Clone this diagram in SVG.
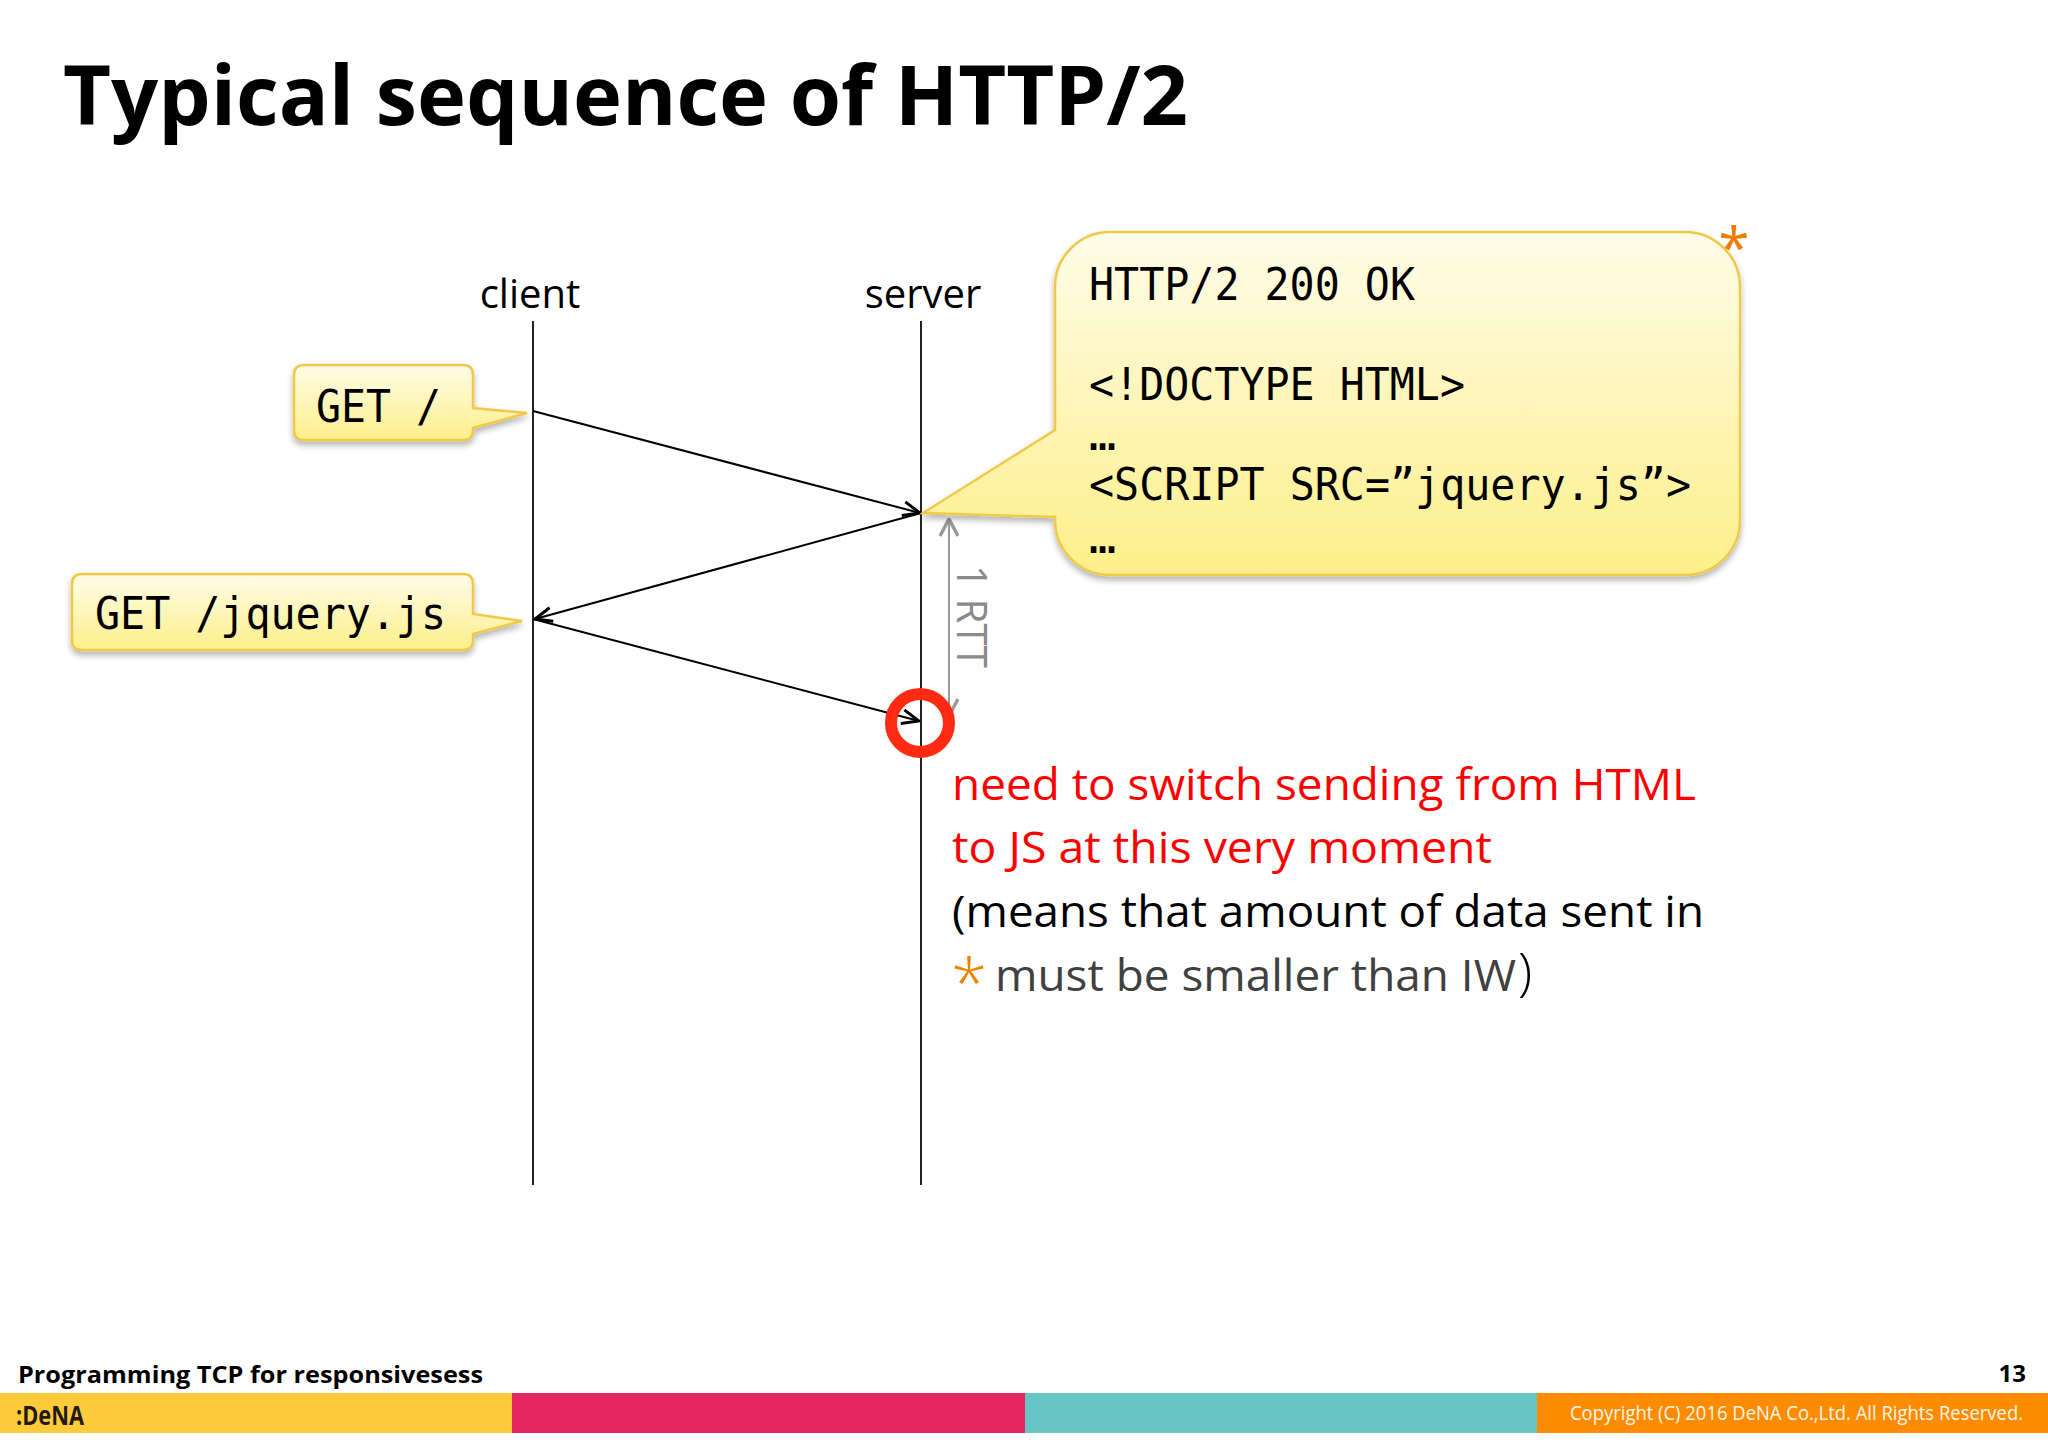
<svg xmlns="http://www.w3.org/2000/svg" width="2048" height="1447" viewBox="0 0 2048 1447">
<style>
.title{font-family:"Open Sans","Noto Sans","DejaVu Sans",sans-serif;font-weight:bold;font-size:82px;fill:#000}
.lbl{font-family:"Open Sans","Noto Sans","DejaVu Sans",sans-serif;font-size:40px;fill:#000}
.mono{font-family:"DejaVu Sans Mono","Liberation Mono",monospace;font-size:45px;fill:#000}
.note{font-family:"Open Sans","Noto Sans","DejaVu Sans",sans-serif;font-size:43px}
.life{stroke:#222;stroke-width:2;fill:none}
.msg{stroke:#000;stroke-width:2;fill:none;marker-end:url(#ah)}
.callout{fill:url(#yg);stroke:#f0c94a;stroke-width:2.5;filter:url(#sh)}
.foot{font-family:"Open Sans","Noto Sans","DejaVu Sans",sans-serif}
</style>
<defs>
<linearGradient id="yg" x1="0" y1="0" x2="0" y2="1">
<stop offset="0" stop-color="#fffce8"/>
<stop offset="1" stop-color="#fdef8a"/>
</linearGradient>
<filter id="sh" x="-10%" y="-10%" width="120%" height="130%">
<feGaussianBlur in="SourceAlpha" stdDeviation="3"/>
<feOffset dx="0" dy="4" result="b"/>
<feComponentTransfer><feFuncA type="linear" slope="0.3"/></feComponentTransfer>
<feMerge><feMergeNode/><feMergeNode in="SourceGraphic"/></feMerge>
</filter>
<marker id="ah" viewBox="0 0 20 20" refX="19" refY="10" markerWidth="20" markerHeight="20" markerUnits="userSpaceOnUse" orient="auto">
<path d="M2,3 L19,10 L2,17" fill="none" stroke="#000" stroke-width="3"/>
</marker>
<marker id="ahg" viewBox="0 0 20 20" refX="19" refY="10" markerWidth="20" markerHeight="20" markerUnits="userSpaceOnUse" orient="auto-start-reverse">
<path d="M2,1 L19,10 L2,19" fill="none" stroke="#999" stroke-width="3.5"/>
</marker>
</defs>
<rect width="2048" height="1447" fill="#fff"/>

<text class="title" x="63" y="125" textLength="1125" lengthAdjust="spacingAndGlyphs">Typical sequence of HTTP/2</text>

<g id="client">
<text class="lbl" x="530" y="308" text-anchor="middle">client</text>
<line class="life" x1="533" y1="321" x2="533" y2="1185"/>
</g>
<g id="server">
<text class="lbl" x="923" y="308" text-anchor="middle">server</text>
<line class="life" x1="921" y1="321" x2="921" y2="1185"/>
</g>

<g id="connectors">
<line class="msg" x1="533" y1="411" x2="920" y2="513"/>
<line class="msg" x1="921" y1="513" x2="535" y2="619"/>
<line class="msg" x1="533" y1="619" x2="919" y2="721"/>
<line x1="949" y1="519" x2="949" y2="716" stroke="#999" stroke-width="2" marker-start="url(#ahg)" marker-end="url(#ahg)"/>
</g>

<g id="get-root">
<path class="callout" d="M304,365 H463 Q473,365 473,375 V408 L527,413 L473,428 V430 Q473,440 463,440 H304 Q294,440 294,430 V375 Q294,365 304,365 Z"/>
<text class="mono" x="316" y="422" textLength="125" lengthAdjust="spacingAndGlyphs">GET /</text>
</g>

<g id="get-jquery">
<path class="callout" d="M82,574 H463 Q473,574 473,584 V614 L522,621 L473,634 V640 Q473,650 463,650 H82 Q72,650 72,640 V584 Q72,574 82,574 Z"/>
<text class="mono" x="95" y="629" textLength="351" lengthAdjust="spacingAndGlyphs">GET /jquery.js</text>
</g>

<g id="response">
<path class="callout" d="M1110,232 H1685 A55,55 0 0 1 1740,287 V520 A55,55 0 0 1 1685,575 H1110 A55,55 0 0 1 1055,520 V517 L923,513 L1055,430 V287 A55,55 0 0 1 1110,232 Z"/>
<text class="mono" x="1089" y="300" textLength="326" lengthAdjust="spacingAndGlyphs">HTTP/2 200 OK</text>
<text class="mono" x="1089" y="400" textLength="376" lengthAdjust="spacingAndGlyphs">&lt;!DOCTYPE HTML&gt;</text>
<text class="mono" x="1089" y="450">…</text>
<text class="mono" x="1089" y="500" textLength="602" lengthAdjust="spacingAndGlyphs">&lt;SCRIPT SRC=”jquery.js”&gt;</text>
<text class="mono" x="1089" y="553">…</text>
<text x="1734" y="268" text-anchor="middle" font-family="Open Sans, DejaVu Sans, sans-serif" font-size="56" fill="#f07d00">*</text>
</g>

<g id="rtt">
<text x="957" y="565" transform="rotate(90 957 565)" font-family="Open Sans, DejaVu Sans, sans-serif" font-size="42" fill="#8a8a8a" textLength="103" lengthAdjust="spacingAndGlyphs">1 RTT</text>
</g>

<g id="switch-point">
<circle cx="920" cy="723" r="29" fill="none" stroke="#ff2a12" stroke-width="12"/>
</g>

<g id="note">
<text class="note" x="952" y="800" fill="#ff0000" textLength="744" lengthAdjust="spacingAndGlyphs">need to switch sending from HTML</text>
<text class="note" x="952" y="863" fill="#ff0000" textLength="540" lengthAdjust="spacingAndGlyphs">to JS at this very moment</text>
<text class="note" x="952" y="927" fill="#000" textLength="752" lengthAdjust="spacingAndGlyphs">(means that amount of data sent in</text>
<text x="951" y="1007" font-family="Open Sans, DejaVu Sans, sans-serif" font-size="66" font-weight="300" fill="#f08000">*</text>
<text class="note" x="995" y="991" fill="#404040" textLength="521" lengthAdjust="spacingAndGlyphs">must be smaller than IW</text>
<text x="1518" y="990" font-family="Open Sans, DejaVu Sans, sans-serif" font-size="52" font-weight="300" fill="#000">)</text>
</g>

<g id="footer">
<text class="foot" x="18" y="1383" font-size="23" font-weight="bold" textLength="465" lengthAdjust="spacingAndGlyphs">Programming TCP for responsivesess</text>
<text class="foot" x="2026" y="1382" font-size="24" font-weight="bold" text-anchor="end">13</text>
<rect x="0" y="1393" width="512" height="40" fill="#fdcb3a"/>
<rect x="512" y="1393" width="513" height="40" fill="#e5275f"/>
<rect x="1025" y="1393" width="512" height="40" fill="#68c5c5"/>
<rect x="1537" y="1393" width="511" height="40" fill="#ff8b00"/>
<text class="foot" x="16" y="1425" font-size="27" font-weight="bold" fill="#231815" textLength="68" lengthAdjust="spacingAndGlyphs">:DeNA</text>
<text class="foot" x="2023" y="1420" font-size="20" fill="#fff6e6" text-anchor="end" textLength="453" lengthAdjust="spacingAndGlyphs">Copyright (C) 2016 DeNA Co.,Ltd. All Rights Reserved.</text>
</g>
</svg>
